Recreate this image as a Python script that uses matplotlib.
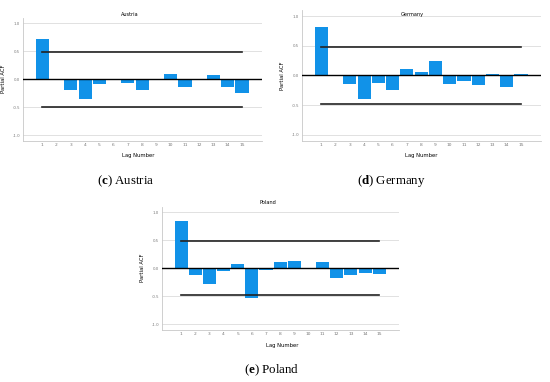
import matplotlib
matplotlib.use("Agg")
import matplotlib.pyplot as plt
import numpy as np

plt.rcParams["mathtext.fontset"] = "custom"
plt.rcParams["mathtext.rm"] = "Liberation Serif"
plt.rcParams["mathtext.bf"] = "Liberation Serif:bold"

lags = list(range(1, 16))
austria = [0.716, 0.0, -0.197, -0.358, -0.078, 0.0, -0.066, -0.203, -0.024, 0.09, -0.149, 0.005, 0.066, -0.143, -0.239]
germany = [0.815, -0.017, -0.146, -0.399, -0.129, -0.247, 0.107, 0.05, 0.236, -0.152, -0.096, -0.169, 0.022, -0.191, 0.017]
poland = [0.848, -0.119, -0.281, -0.048, 0.072, -0.537, -0.036, 0.113, 0.131, 0.0, 0.107, -0.185, -0.119, -0.078, -0.107]
conf = {"Austria": 0.49, "Germany": 0.485, "Poland": 0.488}
yticks = [1.0, 0.5, 0.0, -0.5, -1.0]
captions = {"Austria": ("c", "Austria"), "Germany": ("d", "Germany"), "Poland": ("e", "Poland")}

W, H = 550, 382
fig = plt.figure(figsize=(5.5, 3.82), dpi=100)
fig.patch.set_facecolor("white")

BAR = "#1192e8"

# pixel boxes: left, right, top, bottom
boxes = {
    "Austria": (23, 262, 17.7, 140.6),
    "Germany": (302, 541, 10.1, 140.6),
    "Poland": (162, 399, 206.7, 329.6),
}
titles_pos = {"Austria": (130, 14), "Germany": (412, 14.3), "Poland": (268, 203)}
xlab_pos = {"Austria": (138, 156), "Germany": (421, 155.7), "Poland": (282, 345)}
cap_pos = {"Austria": (126, 181), "Germany": (391, 181), "Poland": (272, 370)}
data = {"Austria": austria, "Germany": germany, "Poland": poland}

for name, (l, r, t, b) in boxes.items():
    ax = fig.add_axes([l / W, 1 - b / H, (r - l) / W, (b - t) / H])
    vals = data[name]
    ax.bar(lags, vals, width=0.92, color=BAR, zorder=2)
    for yv in [1.0, 0.5, -0.5, -1.0]:
        ax.axhline(yv, color="#dcdcdc", lw=0.6, zorder=1)
    ax.axhline(0, color="black", lw=1.0, zorder=3)
    c = conf[name]
    ax.plot([lags[0], lags[-1]], [c, c], color="#222222", lw=1.2, zorder=3)
    ax.plot([lags[0], lags[-1]], [-c, -c], color="#222222", lw=1.2, zorder=3)
    ax.set_xlim(-0.35, 16.4)
    ax.set_ylim(-1.1, 1.1)
    ax.set_xticks(lags)
    ax.set_xticklabels([str(x) for x in lags], fontsize=3.2, color="#777777")
    ax.set_yticks(yticks)
    ax.set_yticklabels(["%.1f" % v for v in yticks], fontsize=2.8, color="#777777")
    ax.tick_params(length=0, pad=2)
    for s in ["top", "right"]:
        ax.spines[s].set_visible(False)
    for s in ["left", "bottom"]:
        ax.spines[s].set_color("#c8c8c8")
        ax.spines[s].set_linewidth(0.6)
    ax.set_ylabel("Partial ACF", fontsize=3.8, labelpad=5)
    tx, ty = titles_pos[name]
    fig.text(tx / W, 1 - ty / H, name, fontsize=3.6, ha="center", va="center")
    lx, ly = xlab_pos[name]
    fig.text(lx / W, 1 - ly / H, "Lag Number", fontsize=3.8, ha="center", va="center")
    cx, cy = cap_pos[name]
    letter, cname = captions[name]
    fig.text(cx / W, 1 - cy / H, "(" + r"$\mathbf{" + letter + r"}$" + ") " + cname,
             fontsize=9.3, ha="center", va="center", family="Liberation Serif")

fig.savefig("out.png", dpi=100, facecolor="white")
